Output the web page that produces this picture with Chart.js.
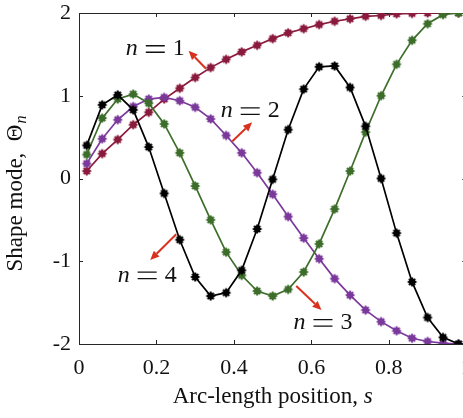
<!DOCTYPE html>
<html><head><meta charset="utf-8">
<script src="https://cdn.jsdelivr.net/npm/chart.js@4.4.1/dist/chart.umd.min.js"></script>
<style>html,body{margin:0;padding:0;background:#fff;overflow:hidden}#wrap{width:463px;height:418px;position:relative;overflow:hidden}canvas{display:block}</style>
</head><body><div id="wrap"><canvas id="c" width="473" height="418"></canvas></div>
<script>
// Arc-length positions
const S = [0.02,0.06,0.10,0.14,0.18,0.22,0.26,0.30,0.34,0.38,0.42,0.46,0.50,0.54,0.58,0.62,0.66,0.70,0.74,0.78,0.82,0.86,0.90,0.94,0.98];
// Shape modes
const N1 = [0.09,0.30,0.47,0.65,0.80,0.96,1.09,1.22,1.34,1.44,1.53,1.61,1.69,1.76,1.81,1.86,1.90,1.93,1.96,1.97,1.99,1.995,2.0,2.0,2.0];
const N2 = [0.18,0.48,0.71,0.87,0.96,0.98,0.94,0.86,0.72,0.52,0.31,0.07,-0.19,-0.46,-0.72,-0.97,-1.21,-1.41,-1.59,-1.73,-1.84,-1.93,-1.97,-1.99,-2.0];
const N3 = [0.29,0.73,0.96,1.02,0.91,0.66,0.31,-0.09,-0.50,-0.89,-1.17,-1.36,-1.42,-1.34,-1.13,-0.79,-0.37,0.09,0.56,1.00,1.38,1.67,1.87,1.98,2.0];
const N4 = [0.40,0.89,1.01,0.83,0.38,-0.18,-0.74,-1.19,-1.42,-1.38,-1.11,-0.61,-0.01,0.59,1.08,1.35,1.36,1.10,0.63,0.00,-0.66,-1.25,-1.68,-1.92,-2.0];
const MODE_NUMBERS = ['1','2','3','4'];
const X_TICKS = [0,0.2,0.4,0.6,0.8,1];
const Y_TICKS = [-2,-1,0,1,2];
const X_TITLE = 'Arc-length position, ';
const X_TITLE_VAR = 's';
const Y_TITLE = 'Shape mode,  \u0398';
const Y_TITLE_SUB = 'n';
// Annotation label centres and arrow tail/head, in data coordinates
const LABEL_POS = [[0.197,1.58],[0.442,0.83],[0.630,-1.73],[0.176,-1.155]];
const ARROW_TAIL = [[0.328,1.327],[0.396,0.450],[0.561,-1.299],[0.251,-0.674]];
const ARROW_HEAD = [[0.283,1.544],[0.447,0.679],[0.626,-1.589],[0.184,-0.985]];

const COLORS = ['#8b1c3e','#7b3a9c','#3e6e2b','#000000'];
const ARROW_COLOR = '#d8321e';
const AXIS_COLOR = '#262626';
const SERIF = '"Liberation Serif", "Times New Roman", serif';

function marker(color){
  const c=document.createElement('canvas'); c.width=12; c.height=12;
  const g=c.getContext('2d'); g.strokeStyle=color; g.fillStyle=color; g.lineWidth=1.9; g.lineCap='butt';
  g.beginPath(); g.arc(6,6,3.4,0,2*Math.PI); g.fill();
  for(let i=0;i<4;i++){const a=i*Math.PI/4; g.beginPath(); g.moveTo(6-4.4*Math.cos(a),6-4.4*Math.sin(a)); g.lineTo(6+4.4*Math.cos(a),6+4.4*Math.sin(a)); g.stroke();}
  return c;
}
function pts(arr){ return S.map((s,i)=>({x:s,y:arr[i]})); }
const SERIES=[N1,N2,N3,N4];
const datasets = SERIES.map((arr,i)=>({
  label:'n = '+MODE_NUMBERS[i], data:pts(arr), borderColor:COLORS[i], backgroundColor:COLORS[i],
  borderWidth:1.7, pointStyle:marker(COLORS[i]), pointRadius:5, tension:0, order:4-i
}));

const frame = {
  id:'frame',
  beforeDatasetsDraw(chart){
    const {ctx, chartArea:a, scales:{x,y}} = chart;
    ctx.save(); ctx.strokeStyle=AXIS_COLOR; ctx.lineWidth=1;
    ctx.beginPath();
    ctx.rect(Math.round(a.left)+0.5, Math.round(a.top)+0.5, Math.round(a.right-a.left), Math.round(a.bottom-a.top));
    ctx.stroke();
    const L=4;
    ctx.beginPath();
    X_TICKS.forEach(v=>{const px=Math.round(x.getPixelForValue(v))+0.5;
      ctx.moveTo(px,a.bottom); ctx.lineTo(px,a.bottom-L); ctx.moveTo(px,a.top); ctx.lineTo(px,a.top+L);});
    Y_TICKS.forEach(v=>{const py=Math.round(y.getPixelForValue(v))+0.5;
      ctx.moveTo(a.left,py); ctx.lineTo(a.left+L,py); ctx.moveTo(a.right,py); ctx.lineTo(a.right-L,py);});
    ctx.stroke(); ctx.restore();
  },
  afterDraw(chart){
    const {ctx, chartArea:a, scales:{x,y}} = chart;
    ctx.save();
    // x title
    ctx.fillStyle='#111'; ctx.textBaseline='middle';
    ctx.font='23px '+SERIF;
    const w1=ctx.measureText(X_TITLE).width;
    ctx.font='italic 23px '+SERIF;
    const w2=ctx.measureText(X_TITLE_VAR).width;
    const cx=(a.left+a.right)/2;
    let sx=cx-(w1+w2)/2;
    ctx.textAlign='left';
    ctx.font='23px '+SERIF; ctx.fillText(X_TITLE,sx,397);
    ctx.font='italic 23px '+SERIF; ctx.fillText(X_TITLE_VAR,sx+w1,397);
    // y title
    ctx.save();
    ctx.translate(16,194); ctx.rotate(-Math.PI/2);
    ctx.font='23px '+SERIF;
    const yw1=ctx.measureText(Y_TITLE).width;
    ctx.font='italic 16px '+SERIF;
    const yw2=ctx.measureText(Y_TITLE_SUB).width;
    let ys=-(yw1+yw2)/2;
    ctx.font='23px '+SERIF; ctx.fillText(Y_TITLE,ys,0);
    ctx.font='italic 16px '+SERIF; ctx.fillText(Y_TITLE_SUB,ys+yw1+1,6);
    ctx.restore();
    // annotations
    for(let i=0;i<4;i++){
      const tx=x.getPixelForValue(ARROW_TAIL[i][0]), ty=y.getPixelForValue(ARROW_TAIL[i][1]);
      const hx=x.getPixelForValue(ARROW_HEAD[i][0]), hy=y.getPixelForValue(ARROW_HEAD[i][1]);
      const ang=Math.atan2(hy-ty,hx-tx), HL=9, HW=4;
      const bx=hx-HL*Math.cos(ang), by=hy-HL*Math.sin(ang);
      ctx.strokeStyle=ARROW_COLOR; ctx.fillStyle=ARROW_COLOR; ctx.lineWidth=2;
      ctx.beginPath(); ctx.moveTo(tx,ty); ctx.lineTo(bx,by); ctx.stroke();
      ctx.beginPath(); ctx.moveTo(hx,hy);
      ctx.lineTo(bx+HW*Math.sin(ang), by-HW*Math.cos(ang));
      ctx.lineTo(bx-HW*Math.sin(ang), by+HW*Math.cos(ang)); ctx.closePath(); ctx.fill();
      // math label  n = k
      const lx=x.getPixelForValue(LABEL_POS[i][0]), ly=y.getPixelForValue(LABEL_POS[i][1]);
      ctx.fillStyle='#111'; ctx.textBaseline='alphabetic'; ctx.textAlign='left';
      ctx.font='italic 24px '+SERIF; const wn=ctx.measureText('n').width;
      ctx.font='24px '+SERIF; const wd=ctx.measureText(MODE_NUMBERS[i]).width;
      const G=8, EQ=19, total=wn+G+EQ+G+wd;
      let px=lx-total/2; const base=ly+7.5;
      ctx.font='italic 24px '+SERIF; ctx.fillText('n',px,base); px+=wn+G;
      ctx.strokeStyle='#111'; ctx.lineWidth=1.3;
      ctx.beginPath(); ctx.moveTo(px,base-9.5); ctx.lineTo(px+EQ,base-9.5); ctx.moveTo(px,base-3); ctx.lineTo(px+EQ,base-3); ctx.stroke();
      px+=EQ+G;
      ctx.font='24px '+SERIF; ctx.fillText(MODE_NUMBERS[i],px,base);
    }
    ctx.restore();
  }
};

new Chart(document.getElementById('c'), {
  type:'line',
  data:{datasets},
  options:{
    responsive:false, devicePixelRatio:1, animation:false,
    layout:{padding:{left:0,right:2,top:13,bottom:0}},
    plugins:{legend:{display:false}, tooltip:{enabled:false}},
    scales:{
      x:{type:'linear', min:0, max:1,
        afterBuildTicks:s=>{s.ticks=X_TICKS.map(v=>({value:v}));},
        afterFit:s=>{s.height=74; s.paddingLeft=0; s.paddingRight=0;},
        grid:{display:false, drawTicks:false}, border:{display:false},
        ticks:{padding:11, color:'#111', font:{family:SERIF, size:22}, maxRotation:0, autoSkip:false,
          callback:v=>String(Math.round(v*10)/10)}},
      y:{type:'linear', min:-2, max:2,
        afterBuildTicks:s=>{s.ticks=Y_TICKS.map(v=>({value:v}));},
        afterFit:s=>{s.width=79; s.paddingTop=0; s.paddingBottom=0;},
        grid:{display:false, drawTicks:false}, border:{display:false},
        ticks:{padding:8, color:'#111', font:{family:SERIF, size:22}, callback:v=>String(v)}}
    }
  },
  plugins:[frame]
});
</script></body></html>
